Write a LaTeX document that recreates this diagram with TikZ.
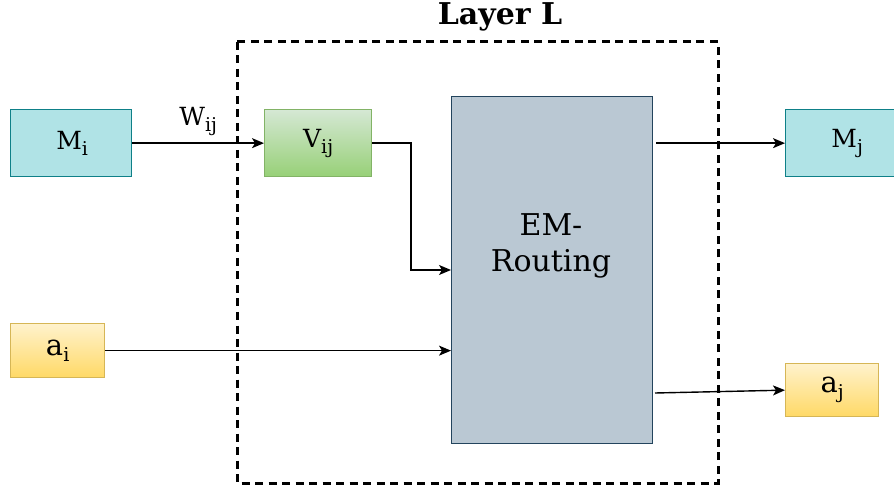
\documentclass[tikz,border=0pt]{standalone}
\usepackage{fontspec}
\setmainfont{DejaVu Serif}
\usetikzlibrary{arrows.meta}
\definecolor{tealfill}{HTML}{B0E3E6}
\definecolor{tealline}{HTML}{0E8088}
\definecolor{greentop}{HTML}{D5E8D4}
\definecolor{greenbot}{HTML}{97D077}
\definecolor{greenline}{HTML}{82B366}
\definecolor{yellowtop}{HTML}{FFF2CC}
\definecolor{yellowbot}{HTML}{FFD966}
\definecolor{yellowline}{HTML}{D6B656}
\definecolor{slatefill}{HTML}{BAC8D3}
\definecolor{slateline}{HTML}{23445D}
\newcommand{\lowidx}[1]{\raisebox{-6pt}{\fontsize{19}{19}\selectfont #1}}
\begin{document}
\begin{tikzpicture}[x=1pt,y=-1pt,
  box/.style={rectangle,line width=1.3pt,inner sep=0pt,anchor=north west},
  mbox/.style={box,draw=tealline,fill=tealfill},
  vbox/.style={box,draw=greenline,top color=greentop,bottom color=greenbot},
  abox/.style={box,draw=yellowline,top color=yellowtop,bottom color=yellowbot},
  routebox/.style={box,draw=slateline,fill=slatefill},
  lbl/.style={font=\fontsize{25}{29}\selectfont,inner sep=0pt},
  albl/.style={font=\fontsize{29}{33}\selectfont,inner sep=0pt},
  conn/.style={line width=1.4pt,-{Stealth[length=12pt,width=10pt,inset=3pt]}},
  frame/.style={line width=3pt,dash pattern=on 8pt off 5.5pt}]
\useasboundingbox (0,0) rectangle (894,486);

% layer frame and its title
\draw[frame] (237,42) rectangle (718,483);
\node[font=\fontsize{30}{34}\selectfont\bfseries,inner sep=0pt] (title) at (500,17) {Layer L};

% boxes
\node[mbox,minimum width=121pt,minimum height=67pt] (Mi) at (10,109) {};
\node[vbox,minimum width=107pt,minimum height=67pt] (Vij) at (264,109) {};
\node[routebox,minimum width=201pt,minimum height=347pt] (em) at (451,96) {};
\node[mbox,minimum width=121pt,minimum height=67pt] (Mj) at (785,109) {};
\node[abox,minimum width=94pt,minimum height=54pt] (ai) at (10,323) {};
\node[abox,minimum width=93pt,minimum height=53pt] (aj) at (785,363) {};

% box texts
\node[lbl] at ([xshift=1pt]Mi.center) {M\lowidx{i}};
\node[lbl] at (Vij.center) {V\lowidx{ij}};
\node[lbl] at ([xshift=1pt]Mj.center) {M\lowidx{j}};
\node[albl] at (ai.center) {a\lowidx{i}};
\node[albl] at (aj.center) {a\lowidx{j}};
\node[font=\fontsize{30}{36}\selectfont,align=center,inner sep=0pt] (emtext) at (551,246) {EM-\\Routing};

% connectors
\coordinate (bend) at (411,142);
\coordinate (emin) at (451,270);
\coordinate (emai) at (451,350);
\coordinate (emoutA) at (655,393);
\draw[conn] (Mi.east) -- node[lbl,above=7pt] (wij) {W\lowidx{ij}} (Vij.west);
\draw[conn] (Vij.east) -- (Vij.east -| bend) |- (emin);
\draw[conn] (ai.east) -- (ai.east -| emai);
\draw[conn] ([xshift=3pt]Mj.west -| em.east) -- (Mj.west);
\draw[conn] (emoutA) -- (aj.west);
\end{tikzpicture}
\end{document}
